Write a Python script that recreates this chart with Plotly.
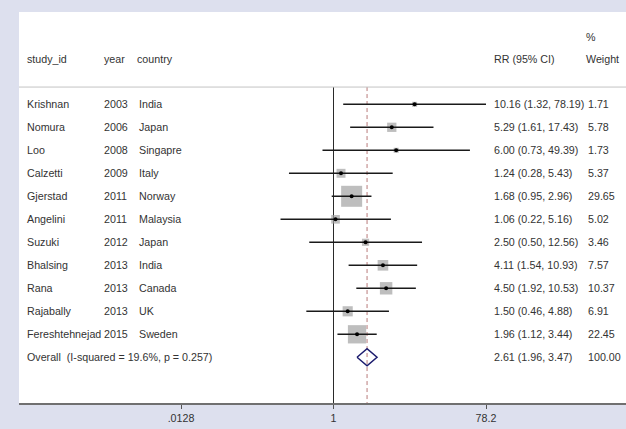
import plotly.graph_objects as go

# ---------------- data ----------------
study = ["Krishnan", "Nomura", "Loo", "Calzetti", "Gjerstad", "Angelini",
         "Suzuki", "Bhalsing", "Rana", "Rajabally", "Fereshtehnejad"]
year = ["2003", "2006", "2008", "2009", "2011", "2011", "2012", "2013", "2013", "2013", "2015"]
country = ["India", "Japan", "Singapre", "Italy", "Norway", "Malaysia",
           "Japan", "India", "Canada", "UK", "Sweden"]
rr = [10.16, 5.29, 6.00, 1.24, 1.68, 1.06, 2.50, 4.11, 4.50, 1.50, 1.96]
ci_lo = [1.32, 1.61, 0.73, 0.28, 0.95, 0.22, 0.50, 1.54, 1.92, 0.46, 1.12]
ci_hi = [78.19, 17.43, 49.39, 5.43, 2.96, 5.16, 12.56, 10.93, 10.53, 4.88, 3.44]
weight = [1.71, 5.78, 1.73, 5.37, 29.65, 5.02, 3.46, 7.57, 10.37, 6.91, 22.45]

overall_label = "Overall\u00a0 (I-squared = 19.6%, p = 0.257)"
overall_rr = 2.61
overall_lo = 1.96
overall_hi = 3.47
overall_weight = 100.00

tick_vals = [0.0128, 1, 78.2]
tick_text = [".0128", "1", "78.2"]

header_cols = ["study_id", "year", "country", "RR (95% CI)", "Weight"]
header_pct = "%"

# ---------------- styling / layout ----------------
W, H = 626, 429
ML, MR, MT, MB = 19, 0, 12, 26
PW = W - ML - MR
FONT = "Liberation Sans, Arial, sans-serif"
FS = 10.7
TXT = "#333333"
BG = "#dde0ee"

def px(xpix):
    return (xpix - ML) / PW

n = len(study)
rows = list(range(n))
overall_row = n
y_top = -4.013
y_bot = 12.987
sep_row = -0.75
header_row = -1.97
pct_row = -2.93

fig = go.Figure()

# reference line at 1 and dashed overall line
fig.add_trace(go.Scatter(x=[1, 1], y=[sep_row, y_bot], mode="lines",
                         line=dict(color="#2a2a2a", width=1), hoverinfo="skip"))
fig.add_trace(go.Scatter(x=[overall_rr, overall_rr], y=[sep_row, y_bot], mode="lines",
                         line=dict(color="#b87a7a", width=1, dash="4px,3px"), hoverinfo="skip"))

# weight boxes
fig.add_trace(go.Scatter(x=rr, y=rows, mode="markers",
                         marker=dict(symbol="square", color="#a3a3a3",
                                     size=[3.86 * w ** 0.5 for w in weight],
                                     line=dict(width=0)),
                         hoverinfo="skip"))

# CI lines
for i in range(n):
    fig.add_trace(go.Scatter(x=[ci_lo[i], ci_hi[i]], y=[i, i], mode="lines",
                             line=dict(color="#1a1a1a", width=1.5), hoverinfo="skip"))

# point estimates
fig.add_trace(go.Scatter(x=rr, y=rows, mode="markers",
                         marker=dict(symbol="circle", color="#000000", size=4),
                         hoverinfo="skip"))

# overall diamond
dh = 0.37
fig.add_trace(go.Scatter(
    x=[overall_lo, overall_rr, overall_hi, overall_rr, overall_lo],
    y=[overall_row, overall_row - dh, overall_row, overall_row + dh, overall_row],
    mode="lines", line=dict(color="#1c1c6e", width=1.5), hoverinfo="skip"))

ann = []
def add_text(xpix, y, text):
    ann.append(dict(x=px(xpix), y=y, xref="paper", yref="y", text=text,
                    showarrow=False, xanchor="left", yanchor="middle", align="left",
                    font=dict(family=FONT, size=FS, color=TXT), borderpad=0))

# headers
add_text(26, header_row, header_cols[0])
add_text(103, header_row, header_cols[1])
add_text(136, header_row, header_cols[2])
add_text(493, header_row, header_cols[3])
add_text(585, header_row, header_cols[4])
add_text(585, pct_row, header_pct)

for i in range(n):
    add_text(26, i, study[i])
    add_text(103, i, year[i])
    add_text(138, i, country[i])
    add_text(493, i, f"{rr[i]:.2f} ({ci_lo[i]:.2f}, {ci_hi[i]:.2f})")
    add_text(587, i, f"{weight[i]:.2f}")

add_text(26, overall_row, overall_label)
add_text(493, overall_row, f"{overall_rr:.2f} ({overall_lo:.2f}, {overall_hi:.2f})")
add_text(587, overall_row, f"{overall_weight:.2f}")

shapes = [dict(type="line", xref="paper", yref="y", x0=0, x1=1, y0=sep_row, y1=sep_row,
               line=dict(color="#c4c4c4", width=1))]

fig.update_layout(
    width=W, height=H,
    margin=dict(l=ML, r=MR, t=MT, b=MB, pad=0),
    paper_bgcolor=BG, plot_bgcolor="#ffffff",
    showlegend=False,
    annotations=ann, shapes=shapes,
    font=dict(family=FONT, size=FS, color=TXT),
    xaxis=dict(type="log", range=[-3.904, 3.631], showgrid=False, zeroline=False,
               showline=True, linecolor="#707070", linewidth=2,
               ticks="outside", ticklen=4, tickwidth=1, tickcolor="#555555",
               tickvals=tick_vals, ticktext=tick_text,
               tickfont=dict(family=FONT, size=FS, color=TXT), fixedrange=True),
    yaxis=dict(range=[y_bot, y_top], showgrid=False, zeroline=False, showline=False,
               showticklabels=False, ticks="", fixedrange=True),
)

fig.write_html(
    "out.html",
    config={"displayModeBar": False},
    post_script="document.body.style.margin='0px';document.body.style.overflow='hidden';",
)
